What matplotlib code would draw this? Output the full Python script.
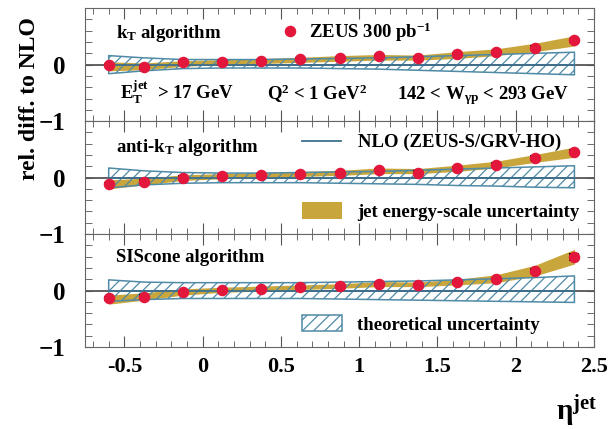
import numpy as np
import matplotlib
matplotlib.use('Agg')
import matplotlib.pyplot as plt
from matplotlib.ticker import MultipleLocator, FixedLocator
from matplotlib.patches import Patch

plt.rcParams['font.family'] = ['Liberation Serif', 'DejaVu Serif']
plt.rcParams['font.weight'] = 'bold'
plt.rcParams['mathtext.fontset'] = 'custom'
plt.rcParams['mathtext.rm'] = 'Liberation Serif:bold'
plt.rcParams['mathtext.it'] = 'Liberation Serif:bold'
plt.rcParams['mathtext.bf'] = 'Liberation Serif:bold'
plt.rcParams['hatch.linewidth'] = 0.9

# eta bin centres
eta = [-0.6, -0.375, -0.125, 0.125, 0.375, 0.625, 0.875, 1.125, 1.375, 1.625, 1.875, 2.125, 2.375]

# kT
kt_val = [0.00, -0.05, 0.04, 0.05, 0.07, 0.10, 0.11, 0.15, 0.12, 0.19, 0.22, 0.30, 0.43]
kt_err = [0.02, 0.02, 0.02, 0.02, 0.02, 0.02, 0.02, 0.02, 0.02, 0.02, 0.02, 0.03, 0.03]
kt_jes_lo = [-0.11, -0.09, -0.03, 0.00, 0.02, 0.04, 0.06, 0.08, 0.08, 0.11, 0.16, 0.23, 0.33]
kt_jes_hi = [0.05, 0.03, 0.07, 0.09, 0.11, 0.13, 0.16, 0.18, 0.17, 0.23, 0.28, 0.38, 0.51]
kt_th_up = [0.16, 0.12, 0.09, 0.09, 0.09, 0.10, 0.11, 0.12, 0.14, 0.16, 0.18, 0.20, 0.22]
kt_th_lo = [-0.16, -0.11, -0.07, -0.06, -0.06, -0.06, -0.07, -0.08, -0.10, -0.12, -0.14, -0.16, -0.18]

# anti-kT
akt_val = [-0.11, -0.07, 0.00, 0.02, 0.04, 0.06, 0.08, 0.13, 0.09, 0.17, 0.23, 0.35, 0.46]
akt_err = [0.02, 0.02, 0.02, 0.02, 0.02, 0.02, 0.02, 0.02, 0.02, 0.02, 0.02, 0.03, 0.03]
akt_jes_lo = [-0.20, -0.13, -0.05, -0.02, 0.00, 0.02, 0.04, 0.07, 0.07, 0.11, 0.17, 0.27, 0.36]
akt_jes_hi = [-0.04, -0.01, 0.05, 0.07, 0.09, 0.11, 0.13, 0.17, 0.16, 0.22, 0.29, 0.41, 0.54]
akt_th_up = [0.17, 0.12, 0.09, 0.08, 0.08, 0.09, 0.10, 0.11, 0.13, 0.15, 0.17, 0.19, 0.21]
akt_th_lo = [-0.18, -0.13, -0.10, -0.09, -0.09, -0.09, -0.10, -0.11, -0.12, -0.14, -0.15, -0.17, -0.18]

# SIScone
sis_val = [-0.14, -0.105, -0.03, 0.01, 0.03, 0.06, 0.08, 0.12, 0.105, 0.15, 0.21, 0.35, 0.59]
sis_err = [0.02, 0.02, 0.02, 0.02, 0.02, 0.02, 0.02, 0.02, 0.02, 0.02, 0.02, 0.03, 0.05]
sis_jes_lo = [-0.24, -0.17, -0.08, -0.03, -0.01, 0.02, 0.04, 0.07, 0.07, 0.10, 0.14, 0.26, 0.47]
sis_jes_hi = [-0.08, -0.04, 0.03, 0.06, 0.08, 0.10, 0.12, 0.16, 0.15, 0.20, 0.28, 0.45, 0.73]
sis_th_up = [0.19, 0.15, 0.14, 0.14, 0.14, 0.14, 0.15, 0.16, 0.17, 0.19, 0.21, 0.23, 0.26]
sis_th_lo = [-0.19, -0.16, -0.14, -0.14, -0.14, -0.14, -0.15, -0.16, -0.17, -0.18, -0.19, -0.20, -0.21]

gold = '#c9a63b'
blue = '#4f8aa6'
nlo_blue = '#3e6f8e'
red = '#e3173c'

fig, axes = plt.subplots(3, 1, sharex=True, figsize=(6.13, 4.29), dpi=100)
fig.subplots_adjust(left=0.139, right=0.969, bottom=0.191, top=0.981, hspace=0)

panels = [
    (kt_val, kt_err, kt_jes_lo, kt_jes_hi, kt_th_up, kt_th_lo),
    (akt_val, akt_err, akt_jes_lo, akt_jes_hi, akt_th_up, akt_th_lo),
    (sis_val, sis_err, sis_jes_lo, sis_jes_hi, sis_th_up, sis_th_lo),
]

handles = {}
for ax, (val, err, jlo, jhi, tup, tlo) in zip(axes, panels):
    ax.axhline(0, color='#555555', lw=1.3, zorder=1)
    h_jes = ax.fill_between(eta, jlo, jhi, color=gold, lw=0, zorder=2)
    h_th = ax.fill_between(eta, tlo, tup, facecolor='none', edgecolor=blue,
                           hatch='///', lw=1.1, zorder=3)
    h_nlo, = ax.plot([eta[0], eta[-1]], [0, 0], color=nlo_blue, lw=1.3, zorder=3)
    ax.errorbar(eta, val, yerr=err, fmt='none', ecolor='black', elinewidth=1.5,
                capsize=3.5, capthick=1.5, zorder=4)
    h_dat, = ax.plot(eta, val, 'o', color=red, ms=7.3, mec=red, zorder=5)
    handles = dict(jes=h_jes, th=h_th, nlo=h_nlo, dat=h_dat)

    ax.set_xlim(-0.75, 2.5)
    ax.set_ylim(-1, 1)
    ax.yaxis.set_major_locator(FixedLocator([-1, 0]))
    ax.yaxis.set_minor_locator(MultipleLocator(0.2))
    ax.xaxis.set_major_locator(MultipleLocator(0.5))
    ax.xaxis.set_minor_locator(MultipleLocator(0.1))
    ax.tick_params(which='both', direction='in', top=True, right=True, color='#555555')
    ax.tick_params(axis='x', which='major', length=8, labelsize=16, pad=7)
    ax.tick_params(axis='x', which='minor', length=4)
    ax.tick_params(axis='y', which='both', length=5, labelsize=18, pad=14)
    for s in ax.spines.values():
        s.set_color('#666666')

axes[2].xaxis.set_major_formatter(plt.FuncFormatter(lambda v, p: '%g' % v))

txt = dict(fontsize=13.5, fontweight='bold')
axes[0].text(0.061, 0.78, r'k$_\mathrm{T}$ algorithm', transform=axes[0].transAxes, va='center', **txt)
axes[0].text(0.068, 0.19, r'E$_\mathrm{T}^\mathrm{jet}$  > 17 GeV', transform=axes[0].transAxes, va='baseline', **txt)
axes[0].text(0.358, 0.19, r'Q$^2$ < 1 GeV$^2$', transform=axes[0].transAxes, va='baseline', **txt)
axes[0].text(0.613, 0.19, r'142 < W$_{\gamma\mathrm{p}}$ < 293 GeV', transform=axes[0].transAxes, va='baseline', **txt)
axes[1].text(0.061, 0.77, r'anti-k$_\mathrm{T}$ algorithm', transform=axes[1].transAxes, va='center', **txt)
axes[2].text(0.061, 0.79, 'SIScone algorithm', transform=axes[2].transAxes, va='center', **txt)

leg_kw = dict(frameon=False, prop=dict(size=13.5, weight='bold'), borderpad=0,
              borderaxespad=0, loc='center left')
axes[0].legend([handles['dat']], [r'ZEUS 300 pb$^{\mathrm{-1}}$'], handlelength=0.9,
               handletextpad=0.6, bbox_to_anchor=(0.385, 0.79), **leg_kw)
l2 = axes[1].legend([handles['nlo']], ['NLO (ZEUS-S/GRV-HO)'], handlelength=2.05,
                    handletextpad=0.9, bbox_to_anchor=(0.427, 0.81), **leg_kw)
axes[1].add_artist(l2)
axes[1].legend([Patch(facecolor=gold, lw=0)], ['jet energy-scale uncertainty'], handlelength=2.1,
               handleheight=1.0, handletextpad=0.8, bbox_to_anchor=(0.427, 0.2), **leg_kw)
axes[2].legend([Patch(facecolor='none', edgecolor=blue, hatch='///', lw=1.1)], ['theoretical uncertainty'],
               handlelength=2.1, handleheight=0.9, handletextpad=0.8,
               bbox_to_anchor=(0.427, 0.2), **leg_kw)

fig.text(0.048, 0.77, 'rel. diff. to NLO', rotation=90, ha='center', va='center',
         fontsize=17, fontweight='bold')
fig.text(0.975, 0.019, r'$\mathrm{\eta}^{\mathrm{jet}}$', ha='right', va='baseline', fontsize=21)

fig.savefig('out.png', dpi=100)
